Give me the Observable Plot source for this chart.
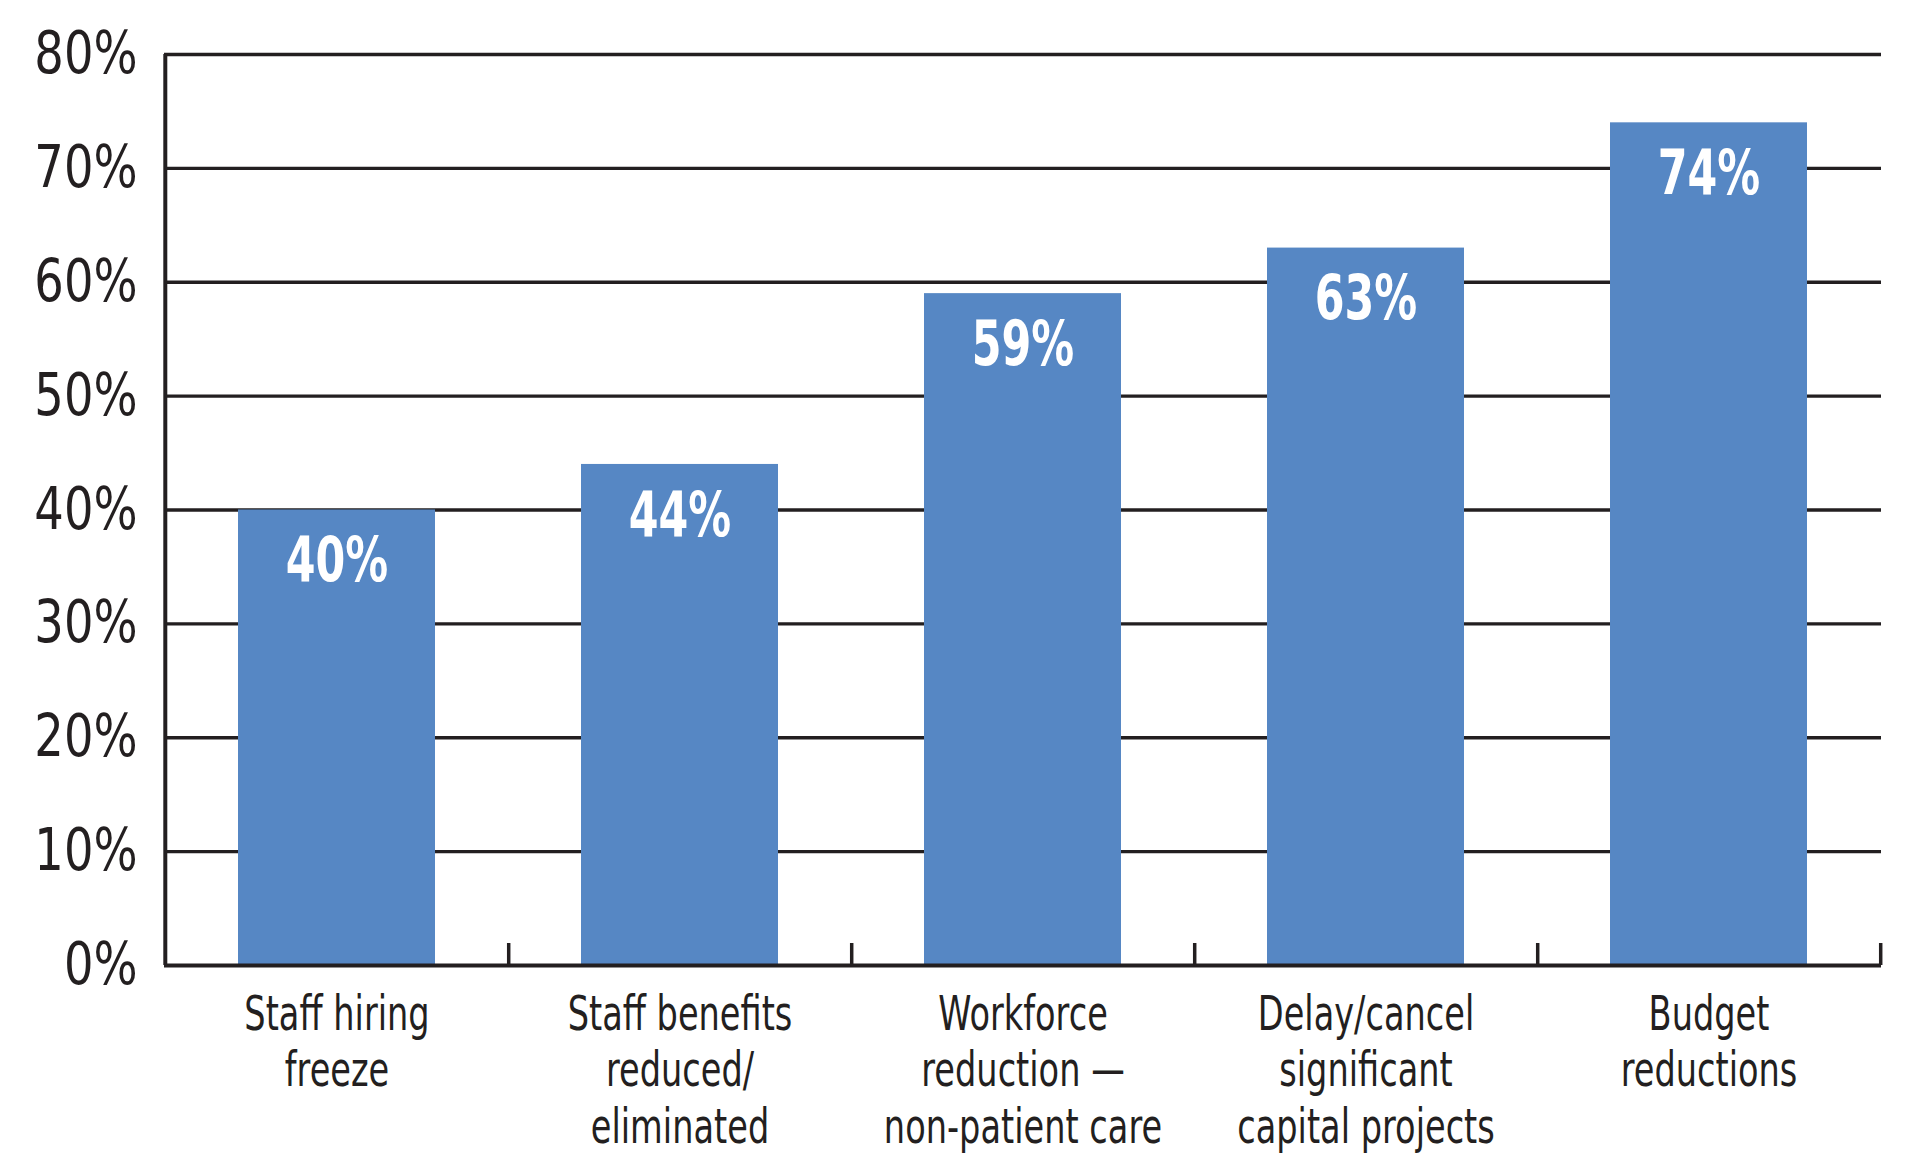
<!DOCTYPE html>
<html>
<head>
<meta charset="utf-8">
<script src="https://cdn.jsdelivr.net/npm/d3@7"></script>
<script src="https://cdn.jsdelivr.net/npm/@observablehq/plot@0.6"></script>
<style>
  html, body { margin: 0; padding: 0; background: #ffffff; }
  #chart svg { display: block; }
</style>
</head>
<body>
<div id="chart"></div>
<script>
// Data
const categories = [
  "Staff hiring\nfreeze",
  "Staff benefits\nreduced/\neliminated",
  "Workforce\nreduction —\nnon-patient care",
  "Delay/cancel\nsignificant\ncapital projects",
  "Budget\nreductions"
];
const values = [40, 44, 59, 63, 74];
const yTicks = [0, 10, 20, 30, 40, 50, 60, 70, 80];

const data = categories.map((c, i) => ({category: c, value: values[i]}));

const W = 1908, H = 1154;
const mTop = 54, mRight = 27, mBottom = 189, mLeft = 164;
const step = (W - mLeft - mRight) / categories.length;
const frameH = H - mTop - mBottom;
const ink = "#231f20";
const font = "'DejaVu Sans', sans-serif";

const chart = Plot.plot({
  width: W,
  height: H,
  marginTop: mTop,
  marginRight: mRight,
  marginBottom: mBottom,
  marginLeft: mLeft,
  style: {fontFamily: font, color: ink, background: "#ffffff"},
  x: {domain: categories, paddingInner: 0.426, paddingOuter: 0.213, label: null},
  y: {domain: [0, 80], label: null},
  marks: [
    Plot.ruleY(yTicks.slice(1), {stroke: ink, strokeWidth: 3.3}),
    Plot.barY(data, {x: "category", y: "value", fill: "#5687c4"}),
    Plot.ruleY([0], {stroke: ink, strokeWidth: 4}),
    Plot.ruleX([categories[0]], {dx: -step / 2, y1: 0, y2: 80, stroke: ink, strokeWidth: 4}),
    Plot.ruleX(categories, {dx: step / 2, insetTop: frameH - 22, stroke: ink, strokeWidth: 3.5}),
    Plot.text(data, {
      x: "category", y: "value", text: d => d.value + "%",
      dy: 51, fill: "white", fontWeight: "bold", fontSize: 63, fontFamily: font
    }),
    Plot.axisY({
      ticks: yTicks, tickFormat: d => d + "%", tickSize: 0, tickPadding: 27,
      fontSize: 58, label: null, fill: ink
    }),
    Plot.axisX({
      tickSize: 0, tickPadding: 24, fontSize: 48, lineHeight: 1.18, label: null, fill: ink
    })
  ]
});

// Narrow the glyphs horizontally (condensed look) around each text's anchor point
function squeeze(selector, k) {
  chart.querySelectorAll(selector + " text").forEach(t => {
    const x = +t.getAttribute("x") || 0, y = +t.getAttribute("y") || 0;
    const tr = t.getAttribute("transform") || "";
    t.setAttribute("transform", `${tr} translate(${x},${y}) scale(${k},1) translate(${-x},${-y})`);
  });
}
squeeze('g[aria-label="x-axis tick label"]', 0.70);
squeeze('g[aria-label="y-axis tick label"]', 0.80);
squeeze('g[aria-label="text"]', 0.68);

document.getElementById("chart").appendChild(chart);
</script>
</body>
</html>
